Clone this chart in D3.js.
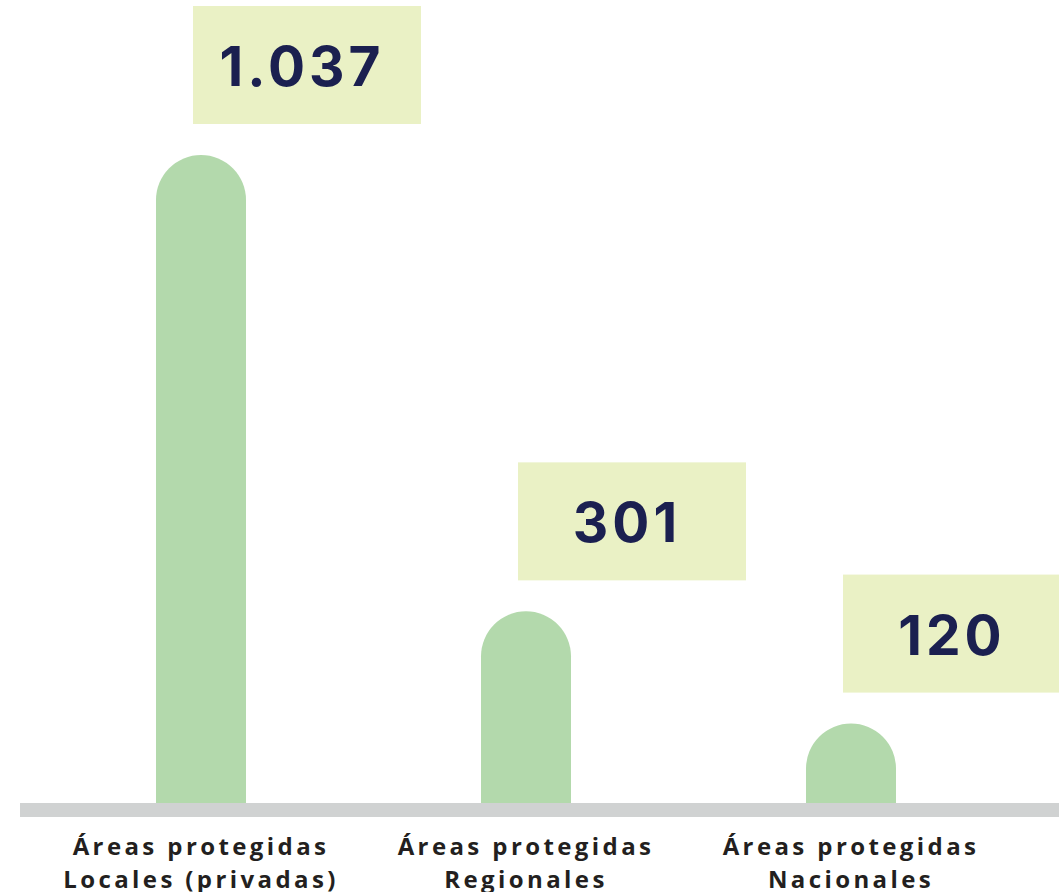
<!DOCTYPE html>
<html><head><meta charset="utf-8">
<script src="https://cdn.jsdelivr.net/npm/d3@7"></script>
<style>html,body{margin:0;padding:0;background:#fff;}svg{display:block;}</style>
</head><body>
<svg id="chart" width="1059" height="892"></svg>
<script>
const categories = ["Áreas protegidas Locales (privadas)", "Áreas protegidas Regionales", "Áreas protegidas Nacionales"];
const labelLine1 = ["Áreas protegidas", "Áreas protegidas", "Áreas protegidas"];
const labelLine2 = ["Locales (privadas)", "Regionales", "Nacionales"];
const values = [1037, 301, 120];
const valueLabels = ["1.037", "301", "120"];

const W = 1059, H = 892;
const baseY = 803;
const svg = d3.select("#chart");

const x = d3.scalePoint().domain(categories).range([201, 851]);
const y = d3.scaleLinear().domain([0, 1037]).range([798, 155]);
const barW = 90, r = barW / 2;
const boxW = 228, boxH = 118;

const data = categories.map((c, i) => ({c, v: values[i], lab: valueLabels[i], l1: labelLine1[i], l2: labelLine2[i]}));

function barPath(d) {
  const cx = x(d.c), top = y(d.v), bot = baseY + 6;
  const x0 = cx - r, x1 = cx + r;
  return `M${x0},${bot} L${x0},${top + r} A${r},${r} 0 0 1 ${x1},${top + r} L${x1},${bot} Z`;
}

svg.selectAll("path.bar").data(data).join("path")
  .attr("class", "bar").attr("d", barPath).attr("fill", "#b3d9ac");

// baseline
svg.append("rect").attr("x", 20).attr("y", baseY).attr("width", W - 20).attr("height", 14).attr("fill", "#d0d2d2");

// value boxes
const g = svg.selectAll("g.val").data(data).join("g").attr("class", "val")
  .attr("transform", d => `translate(${x(d.c) - 8},${y(d.v) - 31 - boxH})`);
g.append("rect").attr("width", boxW).attr("height", boxH).attr("fill", "#eaf1c5");
g.append("text").attr("x", boxW / 2 - 5).attr("y", 80)
  .attr("text-anchor", "middle")
  .attr("font-family", "Inter, 'DejaVu Sans', sans-serif")
  .attr("font-weight", 700).attr("font-size", 55)
  .attr("letter-spacing", 4)
  .attr("fill", "#1b2050").text(d => d.lab);

// category labels
const lab = svg.selectAll("text.cat").data(data).join("text").attr("class", "cat")
  .attr("text-anchor", "middle")
  .attr("font-family", "'Open Sans', sans-serif")
  .attr("font-weight", 700).attr("font-size", 24)
  .attr("letter-spacing", 3.4)
  .attr("fill", "#231f20");
lab.append("tspan").attr("x", d => x(d.c)).attr("y", 855).text(d => d.l1);
lab.append("tspan").attr("x", d => x(d.c)).attr("y", 888).text(d => d.l2);
</script>
</body></html>
